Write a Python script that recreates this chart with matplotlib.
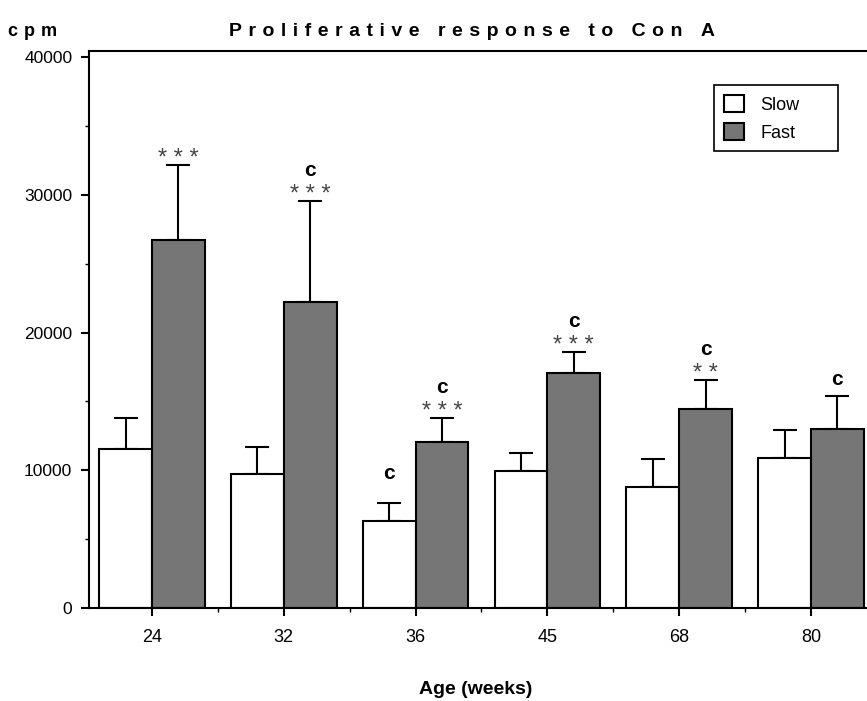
import numpy as np
import matplotlib
matplotlib.use('Agg')
import matplotlib.pyplot as plt
from matplotlib.patches import Patch
from matplotlib.ticker import MultipleLocator, FixedLocator

plt.rcParams['font.family'] = ['Liberation Sans', 'DejaVu Sans']

ages = ['24', '32', '36', '45', '68', '80']
slow = [11550, 9730, 6320, 9950, 8780, 10890]
slow_err = [2250, 1960, 1300, 1300, 2030, 2030]
fast = [26700, 22200, 12050, 17060, 14450, 12990]
fast_err = [5450, 7330, 1740, 1520, 2100, 2400]

# significance marks: stars vs slow, letter "c" vs another group
fast_stars = ['***', '***', '***', '***', '**', '']
fast_letter = ['', 'c', 'c', 'c', 'c', 'c']
slow_letter = ['', '', 'c', '', '', '']

W, H = 867, 701
fig = plt.figure(figsize=(W / 100, H / 100), dpi=100)
ax = fig.add_axes([89 / W, 93 / H, (W - 89) / W, 557 / H])

x = np.arange(len(ages))
bw = 0.4
lw = 1.5
grey = '#767676'

ax.bar(x - bw, slow, width=bw, align='edge', color='white',
       edgecolor='black', linewidth=lw, zorder=2)
ax.bar(x, fast, width=bw, align='edge', color=grey,
       edgecolor='black', linewidth=lw, zorder=2)

zeros = np.zeros(len(ages))
ax.errorbar(x - bw / 2, slow, yerr=[zeros, slow_err], fmt='none',
            ecolor='black', elinewidth=lw, capsize=8.5, capthick=lw, zorder=1)
ax.errorbar(x + bw / 2, fast, yerr=[zeros, fast_err], fmt='none',
            ecolor='black', elinewidth=lw, capsize=8.5, capthick=lw, zorder=1)


def mark(xc, top, stars, letter, letter_off=22):
    if stars:
        ax.annotate(' '.join(stars), (xc, top), xytext=(0, 4.5),
                    textcoords='offset points', ha='center', va='center',
                    fontsize=17, color='#454545')
    if letter:
        ax.annotate(letter, (xc, top), xytext=(0, letter_off),
                    textcoords='offset points', ha='center', va='center',
                    fontsize=15, fontweight='bold', color='black')


for i in range(len(ages)):
    off = 22 if fast_stars[i] else 12
    mark(x[i] + bw / 2, fast[i] + fast_err[i], fast_stars[i], fast_letter[i], off)
    mark(x[i] - bw / 2, slow[i] + slow_err[i], '', slow_letter[i], 21)

ax.set_xlim(-0.478, 5.425)
ax.set_ylim(0, 40436)

ax.yaxis.set_major_locator(MultipleLocator(10000))
ax.yaxis.set_minor_locator(MultipleLocator(5000))
ax.set_xticks(x)
ax.set_xticklabels(ages)
ax.xaxis.set_minor_locator(FixedLocator(x[:-1] + 0.5))

ax.tick_params(axis='both', which='major', direction='out', length=6,
               width=lw, color='black')
ax.tick_params(axis='both', which='minor', direction='out', length=3,
               width=1)
ax.tick_params(axis='x', labelsize=13, pad=9)
ax.tick_params(axis='y', labelsize=12.5, pad=6)

for s in ['left', 'bottom', 'top']:
    ax.spines[s].set_linewidth(lw)
ax.spines['right'].set_visible(False)

fig.text(476 / W, 1 - 690 / H, 'Age (weeks)', ha='center', va='center',
         fontsize=14, fontweight='bold')

sp = '\u2004'
title = 'Proliferative response to Con A'
fig.text(472 / W, 1 - 31 / H, sp.join(title), ha='center', va='center',
         fontsize=14, fontweight='bold')
fig.text(8 / W, 1 - 31 / H, sp.join('cpm'), ha='left', va='center',
         fontsize=13, fontweight='bold')

handles = [Patch(facecolor='white', edgecolor='black', linewidth=1.5),
           Patch(facecolor=grey, edgecolor='black', linewidth=1.5)]
leg = ax.legend(handles, ['Slow', 'Fast'], loc='upper left',
                bbox_to_anchor=(0.8033, 0.817, 0.1594, 0.122), mode='expand',
                fontsize=13, frameon=True,
                fancybox=False, edgecolor='black', framealpha=1,
                handlelength=1.1, handleheight=1.1, handletextpad=0.9,
                borderpad=0.55, labelspacing=0.5, borderaxespad=0)
leg.get_frame().set_linewidth(1.2)

fig.savefig('out.png', dpi=100)
